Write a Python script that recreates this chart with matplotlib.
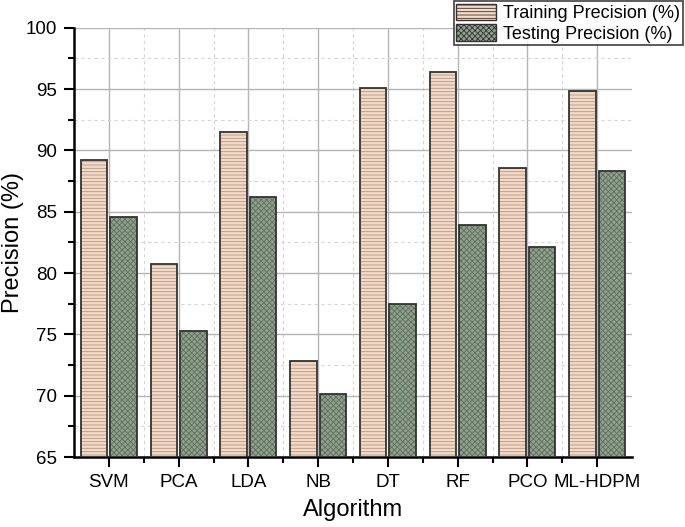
import numpy as np
import matplotlib as mpl
mpl.use('Agg')
import matplotlib.pyplot as plt
from matplotlib.patches import Patch
from matplotlib.ticker import MultipleLocator

plt.rcParams['font.family'] = ['Liberation Sans', 'DejaVu Sans']
plt.rcParams['hatch.linewidth'] = 0.6

algorithms = ['SVM', 'PCA', 'LDA', 'NB', 'DT', 'RF', 'PCO', 'ML-HDPM']
train_precision = [89.2, 80.7, 91.5, 72.8, 95.1, 96.4, 88.6, 94.8]
test_precision = [84.6, 75.3, 86.2, 70.1, 77.5, 83.9, 82.1, 88.3]

train_fill = '#f6d8c3'
train_hatch = '#a89a8c'
test_fill = '#8fa08c'
test_hatch = '#5f6f5d'

fig = plt.figure(figsize=(6.85, 5.27), dpi=100)
ax = fig.add_axes([74 / 685, 1 - 457 / 527, 558 / 685, 429.3 / 527])

x = np.arange(len(algorithms))
width = 0.38
off = 0.21

# hatch colour follows edgecolor, so draw fill+hatch first, then the outline
ax.bar(x - off, np.array(train_precision) - 65, width, bottom=65, color=train_fill,
       edgecolor=train_hatch, hatch='-----', linewidth=0, zorder=3)
ax.bar(x - off, np.array(train_precision) - 65, width, bottom=65, fill=False,
       edgecolor='#333333', linewidth=1.3, zorder=4)
ax.bar(x + off, np.array(test_precision) - 65, width, bottom=65, color=test_fill,
       edgecolor=test_hatch, hatch='xxxxxx', linewidth=0, zorder=3)
ax.bar(x + off, np.array(test_precision) - 65, width, bottom=65, fill=False,
       edgecolor='#333333', linewidth=1.3, zorder=4)

ax.set_xlim(-0.5, len(algorithms) - 0.5)
ax.set_ylim(65, 100)
ax.set_xticks(x)
ax.set_xticklabels(algorithms)
ax.set_xticks(x[:-1] + 0.5, minor=True)
ax.yaxis.set_major_locator(MultipleLocator(5))
ax.yaxis.set_minor_locator(MultipleLocator(2.5))

ax.grid(which='major', color='#b5b5b5', linewidth=1.0, zorder=0)
ax.grid(which='minor', color='#d5d5d5', linewidth=0.8, linestyle=(0, (3, 3)), zorder=0)
ax.set_axisbelow(True)

for s in ['top', 'right']:
    ax.spines[s].set_visible(False)
for s in ['left', 'bottom']:
    ax.spines[s].set_linewidth(1.8)

ax.tick_params(which='major', direction='out', length=7, width=1.5, labelsize=13.5, pad=5)
ax.tick_params(which='minor', direction='out', length=4, width=1.5)

ax.set_xlabel('Algorithm', fontsize=17, labelpad=6)
ax.set_ylabel('Precision (%)', fontsize=17)
ax.yaxis.set_label_coords(-0.09, 0.5)

handles = [
    Patch(facecolor=train_fill, edgecolor='#333333', hatch='-----', label='Training Precision (%)'),
    Patch(facecolor=test_fill, edgecolor='#333333', hatch='xxxxxx', label='Testing Precision (%)'),
]
leg = fig.legend(handles=handles, loc='upper right', bbox_to_anchor=(683 / 685, 1 - 1 / 527),
                 fontsize=13, frameon=True, fancybox=False, handlelength=2.2, handleheight=1.05,
                 borderpad=0.15, labelspacing=0.1, handletextpad=0.4, borderaxespad=0)
leg.get_frame().set_edgecolor('#222222')
leg.get_frame().set_linewidth(1.3)

plt.savefig('out.png', dpi=100)
